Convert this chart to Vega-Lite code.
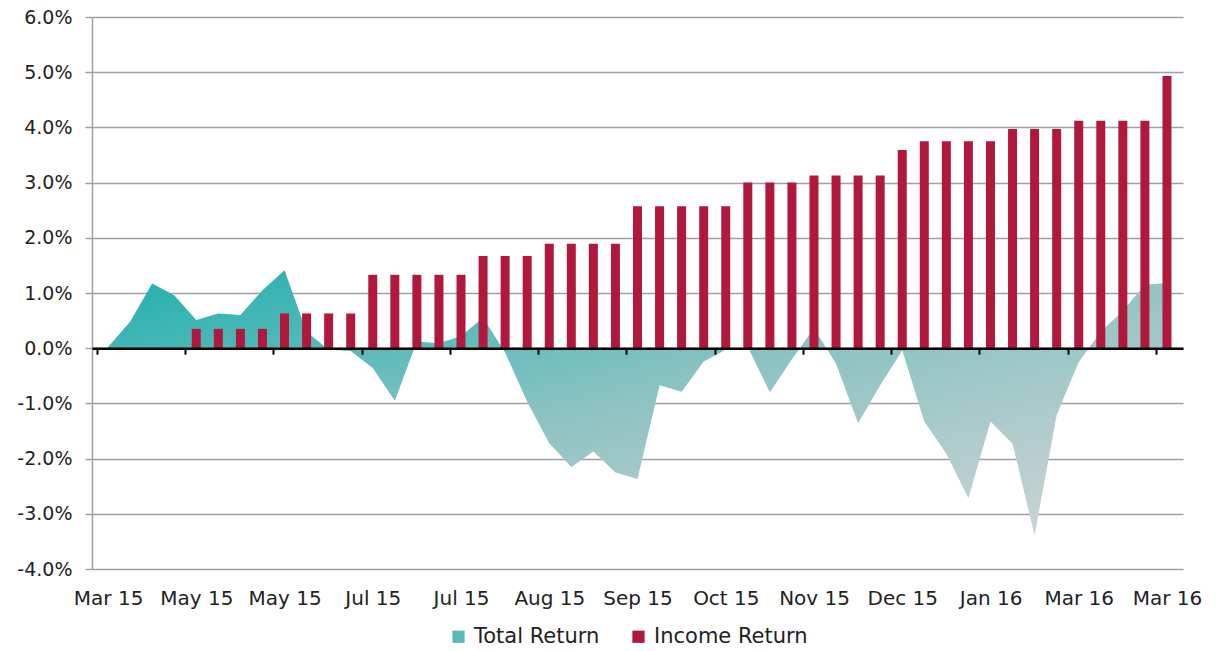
{
  "$schema": "https://vega.github.io/schema/vega-lite/v6.json",
  "width": 1091,
  "height": 552,
  "autosize": "none",
  "padding": {"left": 92, "top": 17, "right": 48, "bottom": 82},
  "background": "white",
  "config": {"view": {"stroke": null}, "font": "DejaVu Sans"},
  "data": {
    "values": [
      {"week": 0, "total": 0.02, "income": null},
      {"week": 1, "total": 0.48, "income": null},
      {"week": 2, "total": 1.17, "income": null},
      {"week": 3, "total": 0.96, "income": null},
      {"week": 4, "total": 0.51, "income": 0.35},
      {"week": 5, "total": 0.63, "income": 0.35},
      {"week": 6, "total": 0.60, "income": 0.35},
      {"week": 7, "total": 1.05, "income": 0.35},
      {"week": 8, "total": 1.41, "income": 0.63},
      {"week": 9, "total": 0.30, "income": 0.63},
      {"week": 10, "total": -0.03, "income": 0.63},
      {"week": 11, "total": -0.05, "income": 0.63},
      {"week": 12, "total": -0.36, "income": 1.33},
      {"week": 13, "total": -0.95, "income": 1.33},
      {"week": 14, "total": 0.12, "income": 1.33},
      {"week": 15, "total": 0.09, "income": 1.33},
      {"week": 16, "total": 0.22, "income": 1.33},
      {"week": 17, "total": 0.55, "income": 1.67},
      {"week": 18, "total": -0.08, "income": 1.67},
      {"week": 19, "total": -0.97, "income": 1.67},
      {"week": 20, "total": -1.72, "income": 1.89},
      {"week": 21, "total": -2.15, "income": 1.89},
      {"week": 22, "total": -1.87, "income": 1.89},
      {"week": 23, "total": -2.25, "income": 1.89},
      {"week": 24, "total": -2.37, "income": 2.57},
      {"week": 25, "total": -0.67, "income": 2.57},
      {"week": 26, "total": -0.79, "income": 2.57},
      {"week": 27, "total": -0.24, "income": 2.57},
      {"week": 28, "total": -0.03, "income": 2.57},
      {"week": 29, "total": 0.02, "income": 3.0},
      {"week": 30, "total": -0.80, "income": 3.0},
      {"week": 31, "total": -0.20, "income": 3.0},
      {"week": 32, "total": 0.36, "income": 3.13},
      {"week": 33, "total": -0.28, "income": 3.13},
      {"week": 34, "total": -1.36, "income": 3.13},
      {"week": 35, "total": -0.67, "income": 3.13},
      {"week": 36, "total": -0.04, "income": 3.59},
      {"week": 37, "total": -1.33, "income": 3.75},
      {"week": 38, "total": -1.91, "income": 3.75},
      {"week": 39, "total": -2.72, "income": 3.75},
      {"week": 40, "total": -1.33, "income": 3.75},
      {"week": 41, "total": -1.73, "income": 3.97},
      {"week": 42, "total": -3.39, "income": 3.97},
      {"week": 43, "total": -1.21, "income": 3.97},
      {"week": 44, "total": -0.25, "income": 4.12},
      {"week": 45, "total": 0.30, "income": 4.12},
      {"week": 46, "total": 0.68, "income": 4.12},
      {"week": 47, "total": 1.15, "income": 4.12},
      {"week": 48, "total": 1.18, "income": 4.93}
    ]
  },
  "encoding": {
    "x": {
      "field": "week",
      "type": "quantitative",
      "scale": {"domain": [-0.5, 48.5], "nice": false, "zero": false},
      "axis": {
        "values": [-0.5, 3.5, 7.5, 11.5, 15.5, 19.5, 23.5, 27.5, 31.5, 35.5, 39.5, 43.5, 47.5],
        "labelExpr": "['Mar 15','May 15','May 15','Jul 15','Jul 15','Aug 15','Sep 15','Oct 15','Nov 15','Dec 15','Jan 16','Mar 16','Mar 16'][round((datum.value + 0.5) / 4)]",
        "labelOffset": 11.1,
        "offset": -220.8,
        "labelPadding": 234,
        "tickSize": 6,
        "tickWidth": 2,
        "tickColor": "#000000",
        "domainColor": "#000000",
        "domainWidth": 2.5,
        "grid": false,
        "title": null,
        "labelFontSize": 20,
        "labelColor": "#222222",
        "labelFont": "DejaVu Sans",
        "labelOverlap": false,
        "labelBound": false,
        "labelFlush": false,
        "zindex": 1
      }
    },
    "y": {
      "type": "quantitative",
      "scale": {"domain": [-4, 6], "nice": false},
      "axis": {
        "values": [-4, -3, -2, -1, 0, 1, 2, 3, 4, 5, 6],
        "labelExpr": "(datum.value < 0 ? '-' : '') + format(abs(datum.value), '.1f') + '%'",
        "grid": true,
        "gridColor": "#a0a0a0",
        "gridWidth": 1.5,
        "domainColor": "#a0a0a0",
        "domainWidth": 1.5,
        "tickColor": "#a0a0a0",
        "tickSize": 7,
        "tickWidth": 1.5,
        "labelFontSize": 19,
        "labelFont": "DejaVu Sans",
        "labelPadding": 13,
        "labelColor": "#222222",
        "title": null,
        "zindex": 0
      }
    }
  },
  "layer": [
    {
      "mark": {
        "type": "area",
        "interpolate": "linear",
        "opacity": 1,
        "fill": {"gradient": "linear", "x1": 0, "y1": 0, "x2": 1, "y2": 1,
          "stops": [{"offset": 0, "color": "#1fb0ae"}, {"offset": 0.5, "color": "#8fc3c3"}, {"offset": 1, "color": "#d4d5d7"}]}
      },
      "encoding": {
        "y": {"field": "total"}
      }
    },
    {
      "mark": {"type": "bar", "width": 9},
      "encoding": {
        "y": {"field": "income"},
        "color": {
          "datum": "Income Return",
          "type": "nominal",
          "scale": {"domain": ["Total Return", "Income Return"], "range": ["#5ab8b7", "#b0193c"]},
          "legend": {
            "orient": "none",
            "legendX": 356,
            "legendY": 609,
            "direction": "horizontal",
            "title": null,
            "symbolType": "square",
            "symbolSize": 150,
            "symbolStrokeWidth": 0,
            "symbolOpacity": 1,
            "labelFontSize": 21,
            "labelFont": "DejaVu Sans",
            "labelColor": "#222222",
            "labelOffset": 5,
            "columnPadding": 28
          }
        }
      }
    }
  ]
}
